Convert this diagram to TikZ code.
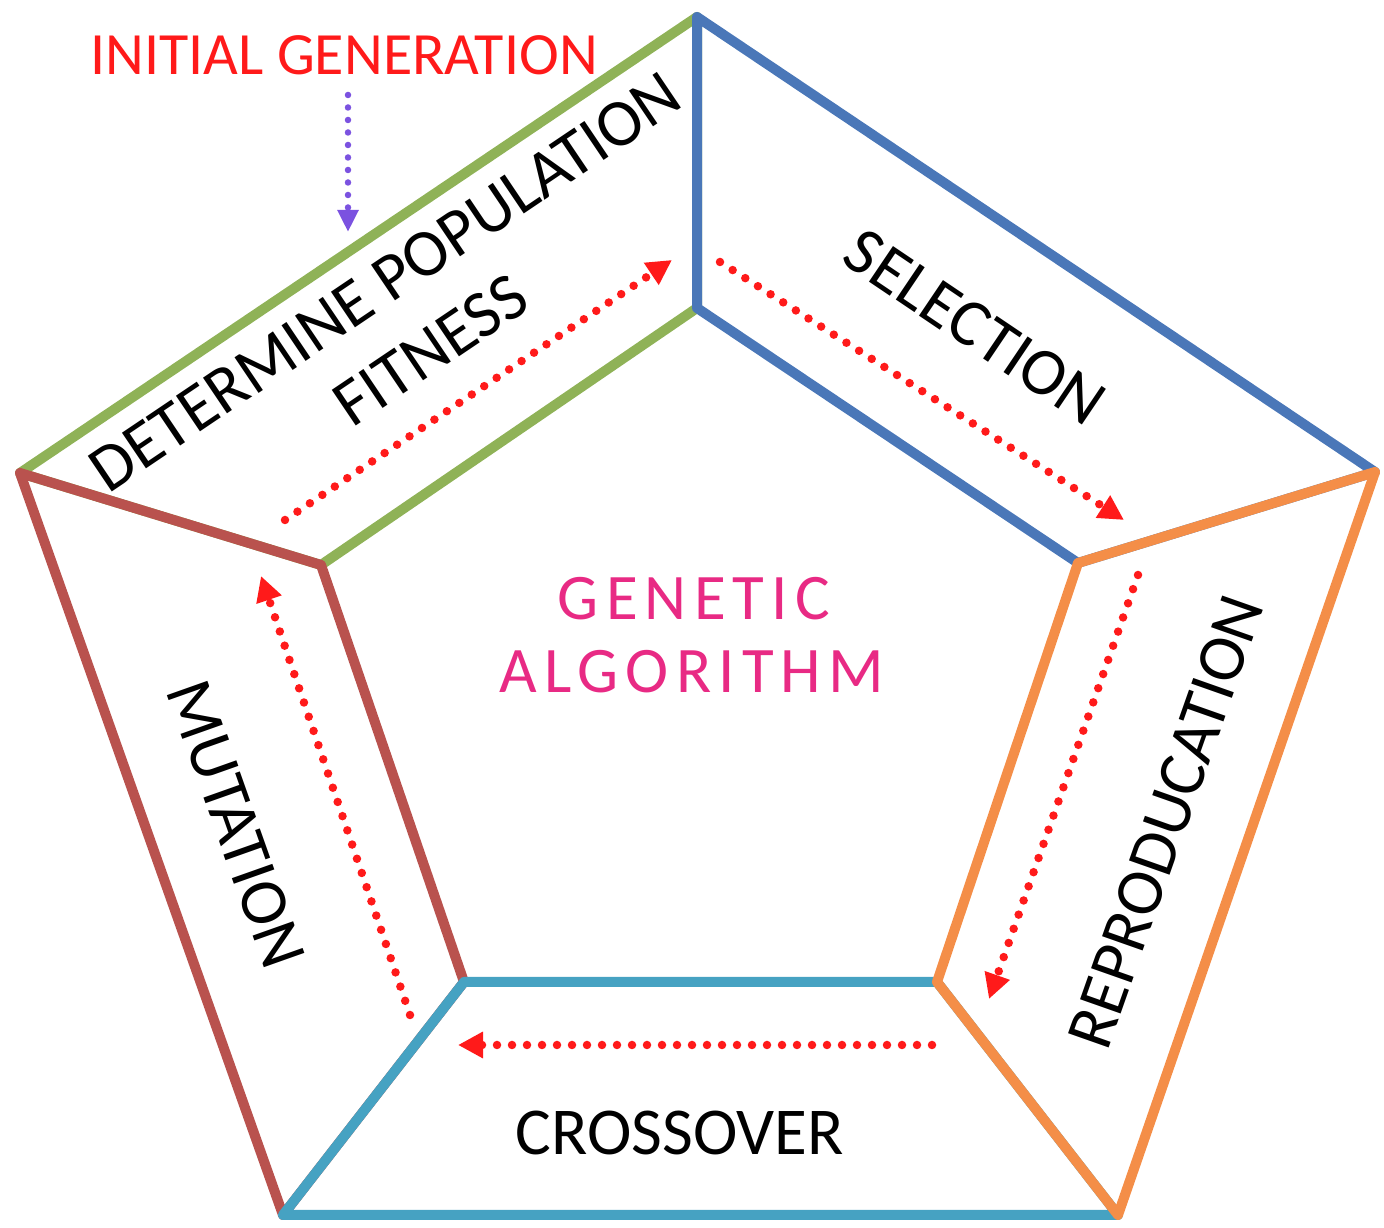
\documentclass[tikz,border=0pt]{standalone}
\usepackage{fontspec}
\setmainfont{Carlito}
\usetikzlibrary{arrows.meta}
\definecolor{gaGreen}{HTML}{8FB257}
\definecolor{gaBlue}{HTML}{4A77B8}
\definecolor{gaOrange}{HTML}{F48E48}
\definecolor{gaTeal}{HTML}{46A2C2}
\definecolor{gaBrown}{HTML}{B9524E}
\definecolor{gaRed}{HTML}{FF1A1A}
\definecolor{gaPurple}{HTML}{7B52E0}
\definecolor{gaPink}{HTML}{E82A84}
\begin{document}
\begin{tikzpicture}[x=1pt,y=1pt,
  band/.style={line width=10pt, line join=round},
  flow/.style={gaRed, line width=8.5pt, line cap=round,
    dash pattern=on 0pt off 15pt,
    -{Triangle[length=25pt,width=25pt]}},
  startflow/.style={gaPurple, line width=6.5pt, line cap=round,
    dash pattern=on 0pt off 12.5pt,
    -{Triangle[length=22pt,width=20pt]}},
  lbl/.style={inner sep=0pt, text=black, align=center,
    font=\fontsize{67}{82}\selectfont},
]
\useasboundingbox (0,0) rectangle (1384,1228);

% outer pentagon
\coordinate (T)  at (697,1211);
\coordinate (R)  at (1375,756);
\coordinate (BR) at (1118,13);
\coordinate (BL) at (283,13);
\coordinate (L)  at (20,755);
% inner pentagon
\coordinate (IT)  at (697,920);
\coordinate (IR)  at (1078,665);
\coordinate (IBR) at (937,246);
\coordinate (IBL) at (464,246);
\coordinate (IL)  at (321,663);

% the five stage bands
\draw[band, gaGreen]  (L) -- (T) -- (IT) -- (IL) -- cycle;
\draw[band, gaBlue]   (T) -- (R) -- (IR) -- (IT) -- cycle;
\draw[band, gaBrown]  (BL) -- (L) -- (IL) -- (IBL) -- cycle;
\draw[band, gaTeal]   (BR) -- (BL) -- (IBL) -- (IBR) -- cycle;
\draw[band, gaOrange] (R) -- (BR) -- (IBR) -- (IR) -- cycle;

% stage labels
\node[lbl, rotate=34] (fit) at (408,912) {DETERMINE POPULATION\\FITNESS};
\node[lbl, rotate=-34] (sel) at (975,901) {SELECTION};
\node[lbl, rotate=70.6] (rep) at (1166,406) {REPRODUCATION};
\node[lbl, anchor=base] (cro) at (680,73) {CROSSOVER};
\node[lbl, rotate=-70.5] (mut) at (236,404) {MUTATION};

% title in the centre
\node[inner sep=0pt, anchor=base, text=gaPink,
  font=\fontsize{65}{78}\selectfont\addfontfeature{LetterSpace=11}] (gen) at (694,608) {GENETIC};
\node[inner sep=0pt, anchor=base, text=gaPink,
  font=\fontsize{65}{78}\selectfont\addfontfeature{LetterSpace=11}] (alg) at (692,535) {ALGORITHM};

% entry point
\node[inner sep=0pt, anchor=base, text=gaRed,
  font=\fontsize{60}{72}\selectfont] (init) at (344,1153) {INITIAL GENERATION};
\coordinate (initS) at (348,1133);
\coordinate (initE) at (348,996);
\draw[startflow] (initS) -- (initE);

% cycle flow
\coordinate (f1s) at (285,708);  \coordinate (f1e) at (672,968);
\coordinate (f2s) at (720,966);  \coordinate (f2e) at (1124,708);
\coordinate (f3s) at (1138,653); \coordinate (f3e) at (989,229);
\coordinate (f4s) at (932,183);  \coordinate (f4e) at (458,183);
\coordinate (f5s) at (410,213);  \coordinate (f5e) at (261,652);
\draw[flow] (f1s) -- (f1e);
\draw[flow] (f2s) -- (f2e);
\draw[flow] (f3s) -- (f3e);
\draw[flow] (f4s) -- (f4e);
\draw[flow] (f5s) -- (f5e);
\end{tikzpicture}
\end{document}
